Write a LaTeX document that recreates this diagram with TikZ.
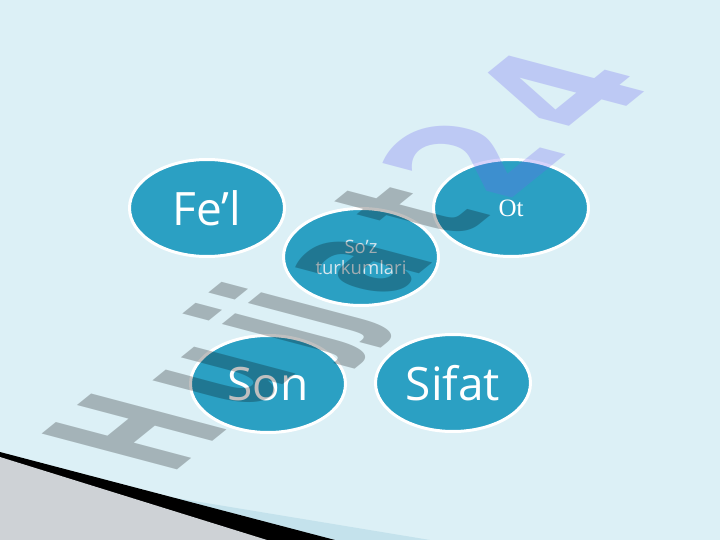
\documentclass[tikz,border=0pt]{standalone}
\usepackage{fontspec}
\setmainfont{Open Sans}
\newfontfamily\otfont{Liberation Serif}
\newfontfamily\wmfont{DejaVu Sans}
\usetikzlibrary{shapes.geometric}

\definecolor{bgblue}{RGB}{220,240,246}
\definecolor{tealfill}{RGB}{43,160,195}
\definecolor{wedgeblue}{RGB}{196,226,236}
\definecolor{wedgegray}{RGB}{206,210,214}
\definecolor{smalltext}{RGB}{214,230,238}
\definecolor{wmlav}{RGB}{110,100,240}

\tikzset{
  part/.style={ellipse, draw=white, line width=3pt, fill=tealfill,
    minimum width=155pt, minimum height=97pt, text=white, inner sep=0pt},
  bigword/.style={font=\fontsize{46}{50}\selectfont},
  wmark/.style={inner sep=0pt, transform shape, anchor=base west,
    font=\wmfont\bfseries\fontsize{100}{100}\selectfont},
}

\begin{document}
\begin{tikzpicture}[x=1pt,y=-1pt]
  \fill[bgblue] (0,0) rectangle (720,540);
  \useasboundingbox (0,0) rectangle (720,540);

  % corner wedge
  \fill[wedgeblue] (0,469) -- (430,540) -- (0,540) -- cycle;
  \fill[black] (0,452) -- (335,540) -- (0,540) -- cycle;
  \fill[wedgegray] (0,457) -- (267,540) -- (0,540) -- cycle;

  \node[part, bigword] (fel) at (207,208) {Fe’l};
  \node[part] (ot) at (511,208) {\otfont\fontsize{25}{28}\selectfont Ot};
  \node[part, text=smalltext, align=center,
    font=\fontsize{18.5}{21}\selectfont] (soz) at (361,257) {So’z\\turkumlari};
  \node[part, bigword] (son) at (268,384) {Son};
  \node[part, bigword] (sifat) at (453,383) {Sifat};

  % watermark
  \begin{scope}[shift={(166,479)}, cm={0.758,0.613,-1.857,0.492,(0,0)}]
    \foreach \ch/\pos [count=\i] in {H/6, u/108, j/200, j/234, a/292, t/385}
      \node[wmark, text=black, text opacity=0.25] (wm\i) at (\pos,0) {\ch};
  \end{scope}
  \begin{scope}[shift={(166,479)}, cm={1.010,0.818,-1.857,0.492,(0,0)}]
    \foreach \ch/\pos [count=\i] in {2/335, 4/419}
      \node[wmark, text=wmlav, text opacity=0.28] (wmn\i) at (\pos,0) {\ch};
  \end{scope}
\end{tikzpicture}
\end{document}
